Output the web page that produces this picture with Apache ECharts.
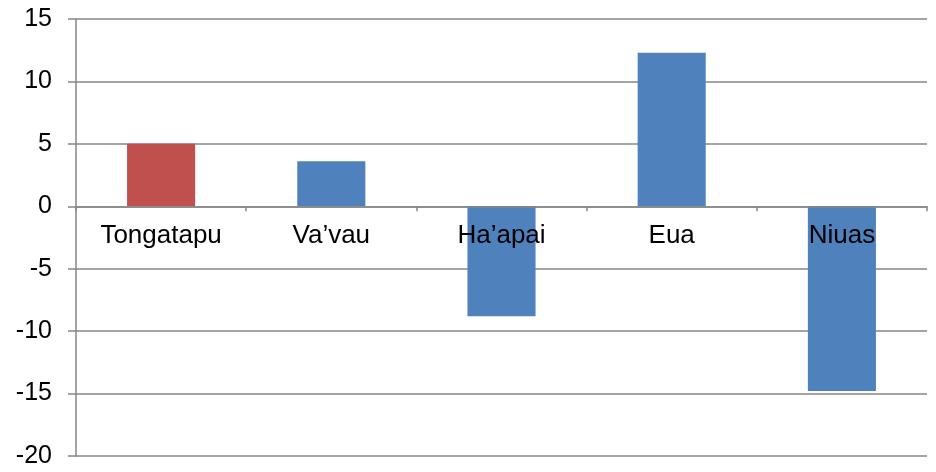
<!DOCTYPE html>
<html>
<head>
<meta charset="utf-8">
<script src="https://cdn.jsdelivr.net/npm/echarts@6/dist/echarts.min.js"></script>
<style>html,body{margin:0;padding:0;background:#fff}#c{width:936px;height:472px}</style>
</head>
<body>
<div id="c"></div>
<script>
const categories = ['Tongatapu', 'Va\u2019vau', 'Ha\u2019apai', 'Eua', 'Niuas'];
const values = [5, 3.6, -8.8, 12.3, -14.8];
const barColors = ['#C0504D', '#4F81BD', '#4F81BD', '#4F81BD', '#4F81BD'];
const yTicks = { min: -20, max: 15, interval: 5 };

const W = 936, H = 472;
const gridTop = 19, gridBottom = 16, gridLeft = 76, gridRight = 9;
const plotH = H - gridTop - gridBottom;
// move the category axis up to the zero line
const xOffset = -plotH * (0 - yTicks.min) / (yTicks.max - yTicks.min);

const font = 'Liberation Sans, Arial, sans-serif';
const chart = echarts.init(document.getElementById('c'));
chart.setOption({
  animation: false,
  grid: { left: gridLeft, right: gridRight, top: gridTop, bottom: gridBottom, containLabel: false, outerBoundsMode: 'none' },
  xAxis: {
    type: 'category',
    data: categories,
    z: 10,
    position: 'bottom',
    offset: xOffset,
    axisLine: { onZero: false, lineStyle: { color: '#868686', width: 1.5 } },
    axisTick: { show: true, length: 5, lineStyle: { color: '#868686', width: 1.5 } },
    axisLabel: { color: '#000', fontSize: 26, fontFamily: font, margin: 17, interval: 0 },
    splitLine: { show: false }
  },
  yAxis: {
    type: 'value',
    min: yTicks.min, max: yTicks.max, interval: yTicks.interval,
    axisLine: { show: true, onZero: false, lineStyle: { color: '#868686', width: 1.5 } },
    axisTick: { show: true, length: 8, lineStyle: { color: '#868686', width: 1.5 } },
    axisLabel: { color: '#000', fontSize: 25, fontFamily: font, margin: 24 },
    splitLine: { show: true, lineStyle: { color: '#868686', width: 1.5 } }
  },
  series: [{
    type: 'bar',
    data: values.map((v, i) => ({ value: v, itemStyle: { color: barColors[i] } })),
    barWidth: '40%'
  }]
});
</script>
</body>
</html>
